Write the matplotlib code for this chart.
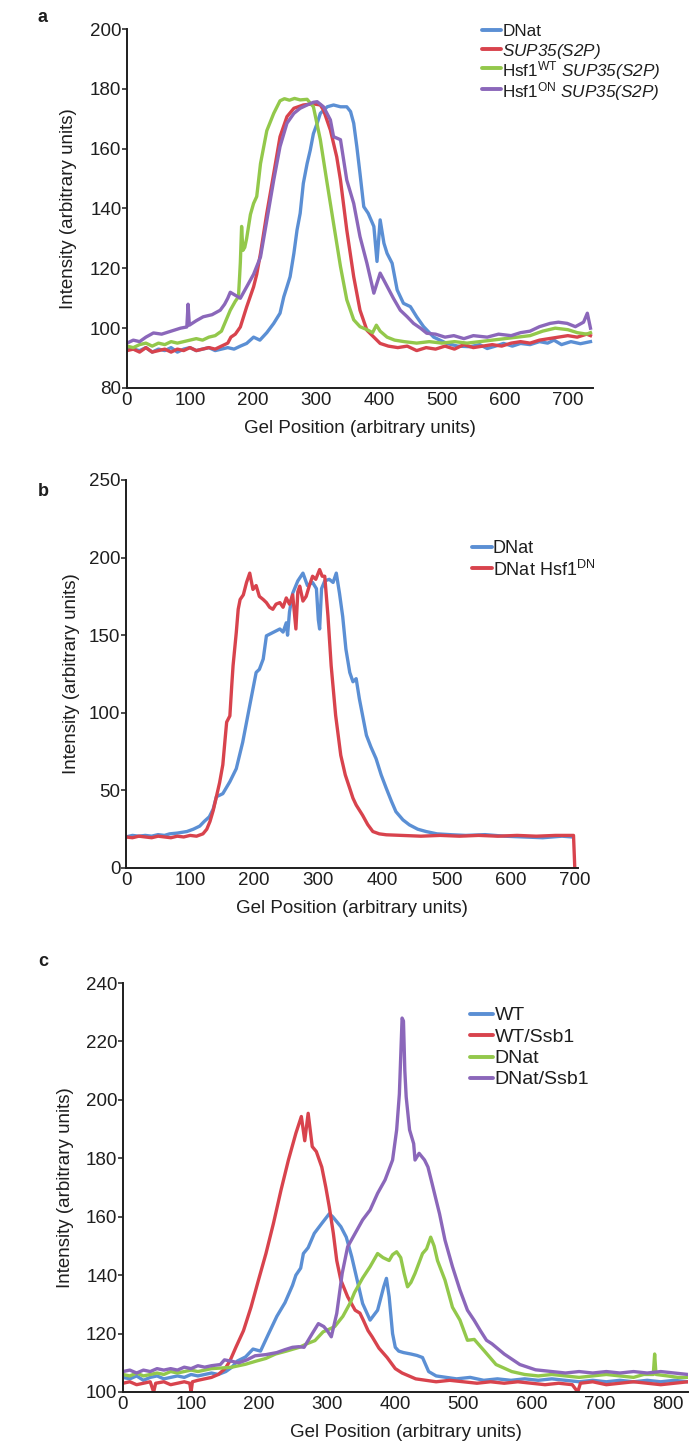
import matplotlib
matplotlib.use("Agg")
import matplotlib.pyplot as plt
from matplotlib.lines import Line2D

plt.rcParams["font.family"] = ["Liberation Sans", "DejaVu Sans"]
plt.rcParams["mathtext.fontset"] = "custom"
plt.rcParams["mathtext.rm"] = "Liberation Sans"
plt.rcParams["mathtext.it"] = "Liberation Sans:italic"
# \mathbf is used as "italic for every glyph" (mathit keeps digits upright)
plt.rcParams["mathtext.bf"] = "Liberation Sans:italic"

BLUE = "#5b8fd4"
RED = "#d8434d"
GREEN = "#93c84b"
PURPLE = "#8b67ba"
INK = "#1e1e1e"

# ---- panel a: (gel position, intensity) ----
a_dnat = [(0, 93.5), (10, 93), (20, 92.5), (30, 93.5), (40, 92), (50, 93), (60, 92.5), (70, 93.5),
          (80, 92), (90, 93), (100, 93.5), (110, 92.5), (120, 93), (130, 93.5), (140, 92.5), (150, 93),
          (160, 93.5), (170, 93), (180, 94), (190, 94.9), (201, 97), (211, 96), (222, 98.5), (233, 101.6),
          (243, 105), (249, 110.5), (254, 113.8), (259, 117.2), (265, 125), (270, 132.8), (275, 138.4),
          (280, 148.4), (286, 155), (291, 159.5), (296, 165), (302, 168.5), (307, 171.8), (318, 174),
          (328, 174.6), (339, 174), (349, 174), (355, 172.4), (360, 168.5), (365, 160.6), (370, 151.7),
          (376, 140.6), (383, 138.4), (392, 134), (397, 122.3), (402, 136.2), (408, 128.4), (413, 125),
          (421, 121.7), (429, 112.8), (439, 108.3), (450, 107.2), (460, 103.8), (471, 100.5), (487, 97),
          (508, 94.9), (525, 94), (545, 93.8), (560, 94.5), (572, 93.2), (585, 94), (598, 94.9), (612, 94),
          (625, 94.9), (640, 94.5), (655, 95.5), (668, 95), (678, 96), (690, 94.5), (705, 95.5), (720, 94.8),
          (736, 95.5)]
a_sup35 = [(0, 92.5), (10, 93), (20, 92), (30, 93.5), (40, 92), (50, 92.5), (60, 93), (70, 92), (80, 93),
           (90, 92.5), (100, 93.5), (110, 92.5), (120, 93), (130, 93.5), (140, 93), (150, 94), (160, 95),
           (165, 97), (172, 98), (180, 100.4), (190, 107.1), (201, 113.8), (206, 118), (212, 125), (222, 138.4),
           (233, 151.7), (243, 164), (254, 170.7), (265, 173.5), (280, 174.6), (295, 175), (307, 174.6),
           (312, 172.9), (323, 166.2), (333, 157.3), (339, 149.5), (349, 132.8), (360, 117.2), (370, 106),
           (381, 99.3), (392, 97), (402, 94.9), (415, 94), (430, 93.5), (445, 94), (460, 92.5), (475, 93.5),
           (490, 93), (505, 94), (520, 93), (535, 94.5), (550, 93.5), (565, 94), (580, 94.5), (595, 94),
           (610, 95), (625, 95.5), (640, 95), (655, 96), (670, 96.5), (685, 97), (700, 97.5), (715, 97),
           (730, 98), (736, 97.5)]
a_hsf1_wt = [(0, 94), (10, 93.5), (20, 94.5), (30, 95), (40, 94), (50, 95), (60, 94.5), (70, 95.5), (80, 95),
             (90, 95.5), (100, 96), (110, 96.5), (120, 96), (130, 97), (140, 97.5), (150, 99), (155, 101.5),
             (164, 106), (172, 109), (177, 110.5), (179, 118), (180, 122), (182, 134), (184, 126), (187, 127),
             (190, 130), (196, 138), (201, 141.7), (206, 144), (212, 155), (222, 166), (233, 171.8), (243, 176),
             (250, 176.7), (258, 176.2), (266, 176.8), (275, 176.3), (286, 176.5), (296, 174), (307, 163),
             (317, 149.5), (328, 135), (339, 120.6), (349, 109.5), (360, 102.8), (370, 100.5), (381, 99.5),
             (390, 98.5), (396, 101), (402, 99), (413, 97), (425, 96), (440, 95.5), (460, 95), (480, 95.5),
             (500, 95), (520, 95.5), (540, 95), (560, 95.5), (580, 96), (600, 96.5), (620, 97), (640, 97.5),
             (660, 99), (680, 100), (700, 99.5), (715, 98.5), (730, 98), (736, 98.5)]
a_hsf1_on = [(0, 95), (10, 96), (20, 95.5), (30, 97), (42, 98.4), (55, 98), (70, 99), (85, 100), (95, 100.4),
             (97, 108), (99, 101), (110, 102.5), (121, 103.8), (135, 104.5), (148, 106), (155, 108), (160, 110),
             (164, 112), (172, 111), (180, 110), (190, 113.8), (201, 118), (212, 123.8), (222, 136), (233, 149.5),
             (243, 160.7), (254, 168.5), (265, 171.8), (275, 173.5), (286, 174.6), (296, 175.5), (302, 175.7),
             (312, 174), (323, 169.6), (328, 164), (339, 163), (349, 149.5), (360, 141.7), (370, 130.6),
             (381, 121.7), (392, 111.7), (402, 118.4), (413, 114), (423, 110), (434, 106), (445, 103.8),
             (455, 101.6), (466, 100), (476, 98.3), (490, 98), (505, 97), (519, 97.5), (535, 96.5), (550, 97.5),
             (572, 97), (590, 98), (610, 97.5), (625, 98.5), (640, 99), (655, 100.5), (672, 101.6), (685, 102),
             (699, 101.6), (712, 100.5), (725, 102), (731, 105), (736, 100)]
a_labels = ["DNat", r"$\mathbf{SUP35(S2P)}$",
            r"Hsf1$^{\mathrm{WT}}$ $\mathbf{SUP35(S2P)}$",
            r"Hsf1$^{\mathrm{ON}}$ $\mathbf{SUP35(S2P)}$"]

# ---- panel b ----
b_dnat = [(0, 20), (10, 21), (20, 20.5), (30, 21), (40, 20.5), (50, 21.5), (60, 21), (68, 22), (80, 22.5),
          (95, 23.5), (105, 25), (115, 27), (122, 30), (130, 33), (136, 38), (141, 45.9), (151, 47.9),
          (162, 55.6), (172, 64), (182, 81), (193, 104.7), (203, 126), (208, 128), (214, 134.6), (219, 149.6),
          (229, 151.7), (240, 154), (245, 152), (250, 158), (252, 150), (255, 165), (260, 177), (268, 185),
          (276, 190), (283, 182), (291, 184), (297, 180), (300, 160), (302, 154), (305, 180), (310, 185),
          (317, 186), (323, 184), (328, 190), (333, 177), (338, 162), (343, 141), (349, 126), (354, 120),
          (359, 122), (364, 109), (375, 85.5), (382, 78), (390, 70.5), (398, 60), (406, 51.3), (414, 43),
          (421, 36.3), (432, 31), (442, 27.8), (455, 25), (468, 23.5), (485, 22), (509, 21.4), (530, 21),
          (560, 21.5), (590, 20.5), (620, 20), (650, 19.5), (680, 20.5), (696, 20)]
b_dnat_hsf1 = [(0, 20), (10, 19.5), (20, 20.5), (30, 20), (40, 19.5), (50, 20.5), (60, 20), (70, 19.5),
               (80, 20.5), (90, 20), (100, 21), (110, 20.5), (120, 22), (126, 25), (131, 30), (136, 37),
               (141, 46), (146, 55), (151, 66.5), (155, 85), (157, 94), (162, 98), (165, 118), (167, 130.4),
               (172, 151.7), (175, 166.7), (178, 173), (183, 176), (188, 184), (193, 190), (198, 179.5),
               (203, 182), (208, 175), (214, 173), (219, 171), (224, 168), (229, 166.7), (234, 170), (240, 171),
               (245, 168), (250, 174), (255, 170), (260, 176), (265, 154), (268, 178), (271, 181.6), (276, 172),
               (281, 175), (286, 182), (291, 188), (296, 186), (302, 192.3), (306, 188), (310, 188),
               (315, 162.4), (320, 130.4), (327, 98.3), (335, 72.6), (342, 60), (349, 51.3), (354, 45),
               (359, 40.6), (369, 34), (377, 28), (385, 23.5), (395, 22), (406, 21.4), (430, 21), (460, 20.5),
               (490, 21), (520, 20.5), (550, 21), (580, 20.5), (610, 21), (640, 20.5), (670, 21), (698, 21),
               (700, 0)]
b_labels = ["DNat", r"DNat Hsf1$^{\mathrm{DN}}$"]

# ---- panel c ----
c_wt = [(0, 105), (10, 104.5), (20, 105.5), (30, 104), (40, 105), (50, 105.5), (60, 104.5), (70, 105),
        (80, 105.5), (90, 105), (100, 106), (110, 105.5), (120, 106), (130, 106.5), (140, 106), (151, 107),
        (160, 108.5), (168, 110.6), (180, 112), (191, 114.7), (202, 114), (214, 120), (226, 125.9),
        (238, 130.6), (249, 136.5), (254, 140), (261, 142.4), (265, 147.4), (272, 149.4), (281, 154.3),
        (292, 157.7), (303, 161), (308, 160), (320, 156.6), (328, 153), (336, 146.3), (344, 138.3),
        (352, 130.3), (363, 124.6), (374, 128), (383, 136), (387, 138.9), (391, 132.6), (396, 120),
        (400, 115.3), (405, 114), (412, 113.5), (423, 113), (432, 112.5), (440, 111.8), (449, 107),
        (460, 105.5), (475, 105), (490, 104.5), (510, 105), (530, 104), (550, 104.5), (570, 104),
        (590, 104.5), (610, 104), (630, 104.5), (650, 104), (670, 103.5), (690, 104), (710, 103.5),
        (730, 104), (750, 103.5), (770, 104), (790, 103.5), (810, 104), (830, 103.5)]
c_wt_ssb1 = [(0, 103), (10, 103.5), (20, 102.5), (30, 103), (40, 103.5), (45, 100), (48, 103), (60, 103.5),
             (70, 102.5), (80, 103), (90, 103.5), (98, 103), (100, 100), (102, 103.5), (110, 104), (120, 104.5),
             (130, 105), (140, 106), (150, 108), (157, 110.6), (166, 115.4), (177, 121), (188, 129),
             (199, 138.3), (210, 147.4), (221, 157.7), (232, 169), (243, 179.4), (254, 188.6), (262, 194.3),
             (267, 186), (272, 195.4), (278, 184), (284, 182.3), (292, 177), (298, 170), (303, 163.4),
             (309, 154.3), (314, 145), (320, 138.3), (330, 132.6), (341, 128), (348, 127), (353, 124.6),
             (360, 121), (366, 118.9), (376, 115), (388, 111.8), (400, 108), (410, 106.5), (420, 105.5),
             (430, 104.5), (445, 104), (460, 103.5), (480, 104), (500, 103.5), (520, 103), (540, 103.5),
             (560, 103), (580, 103.5), (600, 103), (620, 102.5), (640, 103), (660, 102.5), (668, 100),
             (672, 103), (690, 103.5), (710, 102.5), (730, 103), (750, 103.5), (770, 103), (790, 102.5),
             (810, 103), (830, 103.5)]
c_dnat = [(0, 106), (10, 105.5), (20, 106.5), (30, 105.5), (40, 106), (50, 106.5), (60, 106), (70, 107),
          (80, 106.5), (90, 107), (100, 107.5), (110, 107), (120, 107.5), (130, 108), (144, 108.2),
          (160, 108.5), (180, 109.5), (196, 110.6), (210, 111.5), (224, 113), (240, 114), (259, 115.3),
          (270, 116.5), (282, 117.6), (294, 120.6), (303, 121.5), (311, 122.4), (323, 125.9), (334, 130.6),
          (340, 134), (352, 139), (363, 142.9), (374, 147.4), (382, 146), (391, 145), (396, 147), (402, 148),
          (408, 146), (413, 140.6), (418, 136), (423, 137.5), (429, 140.6), (440, 147.4), (446, 149),
          (452, 153), (457, 150), (462, 145), (473, 138.3), (484, 129), (495, 124.6), (506, 117.7),
          (516, 118), (531, 114), (548, 109.4), (571, 107), (590, 106), (610, 105.5), (630, 106),
          (650, 105.5), (670, 105), (690, 105.5), (710, 106), (730, 105.5), (750, 105), (765, 106),
          (779, 106), (781, 113), (783, 106), (800, 105.5), (815, 105), (830, 105)]
c_dnat_ssb1 = [(0, 107), (10, 107.5), (20, 106.5), (30, 107.5), (40, 107), (50, 108), (60, 107.5), (70, 108),
               (80, 107.5), (90, 108.5), (100, 108), (110, 109), (120, 108.5), (130, 109), (143, 109.4),
               (149, 111), (160, 110.5), (170, 110), (182, 111), (194, 112.4), (210, 112.8), (226, 113.5),
               (238, 114.5), (249, 115.3), (258, 115.5), (266, 115.3), (278, 120), (287, 123.4), (295, 122.4),
               (300, 121), (306, 118.9), (314, 126.9), (322, 140.6), (330, 149.7), (341, 154.3), (352, 158.9),
               (363, 162.3), (374, 168), (385, 172.6), (396, 179.4), (402, 189.7), (406, 202), (408, 215),
               (410, 228), (412, 227), (414, 210), (416, 201), (421, 189.7), (427, 185), (429, 179.4),
               (435, 181.7), (443, 179.4), (448, 177), (454, 171.4), (460, 165.7), (465, 161), (473, 152),
               (484, 142.9), (495, 134.9), (506, 128), (516, 124.5), (525, 121), (534, 117.7), (542, 116.5),
               (560, 113), (583, 109.4), (606, 107.6), (630, 107), (650, 106.5), (670, 107), (690, 106.5),
               (710, 107), (730, 106.5), (750, 107), (770, 106.5), (790, 107), (810, 106.5), (830, 106)]
c_labels = ["WT", "WT/Ssb1", "DNat", "DNat/Ssb1"]

W, H = 690, 1446
fig = plt.figure(figsize=(W / 100, H / 100), dpi=100)


def add_axes(left, top, right, bottom):
    return fig.add_axes([left / W, 1 - bottom / H, (right - left) / W, (bottom - top) / H])


def style(ax, box, xlim, ylim, yticks, xticks, ylab_right):
    left, top, right, bottom = box
    ax.set_xlim(*xlim)
    ax.set_ylim(*ylim)
    ax.set_yticks(yticks)
    ax.set_xticks(xticks)
    for s in ["top", "right"]:
        ax.spines[s].set_visible(False)
    for s in ["left", "bottom"]:
        ax.spines[s].set_linewidth(1.4)
        ax.spines[s].set_color(INK)
    ax.tick_params(axis="y", direction="out", length=3.5, width=1.1, pad=0.5, labelsize=13.5, colors=INK)
    ax.tick_params(axis="x", length=0, pad=3, labelsize=13.5, colors=INK)
    ax.set_xlabel("Gel Position (arbitrary units)", fontsize=13.5, color=INK, labelpad=8)
    ax.set_ylabel("Intensity (arbitrary units)", fontsize=13.5, color=INK)
    ax.yaxis.set_label_coords((ylab_right - left) / (right - left), 0.5)


def draw(ax, series, colors, labels):
    for data, c, lab in zip(series, colors, labels):
        xs = [p[0] for p in data]
        ys = [p[1] for p in data]
        ax.plot(xs, ys, color=c, lw=2.4, label=lab, solid_joinstyle="round")


def legend(x0, x1, rows, colors, labels, size):
    # legend entries placed in figure pixels, one row per series
    for yy, c, lab in zip(rows, colors, labels):
        fy = 1 - yy / H
        fig.add_artist(Line2D([x0 / W, x1 / W], [fy, fy], transform=fig.transFigure,
                              color=c, lw=2.8, solid_capstyle="round"))
        fig.text((x1 + 1.5) / W, fy, lab, fontsize=size, color=INK, ha="left", va="center_baseline")


# panel a
box_a = (127, 29, 593, 388)
ax_a = add_axes(*box_a)
draw(ax_a, [a_dnat, a_sup35, a_hsf1_wt, a_hsf1_on], [BLUE, RED, GREEN, PURPLE], a_labels)
style(ax_a, box_a, (0, 740), (80, 200), range(80, 201, 20), range(0, 701, 100), 77)
legend(482, 501, [30, 49, 68, 89], [BLUE, RED, GREEN, PURPLE], a_labels, 12.3)

# panel b
box_b = (126, 480, 578, 868)
ax_b = add_axes(*box_b)
draw(ax_b, [b_dnat, b_dnat_hsf1], [BLUE, RED], b_labels)
style(ax_b, box_b, (0, 705), (0, 250), range(0, 251, 50), range(0, 701, 100), 80)
legend(472, 491.5, [546.7, 568], [BLUE, RED], b_labels, 13)

# panel c
box_c = (123, 983, 688, 1392)
ax_c = add_axes(*box_c)
draw(ax_c, [c_wt, c_wt_ssb1, c_dnat, c_dnat_ssb1], [BLUE, RED, GREEN, PURPLE], c_labels)
style(ax_c, box_c, (0, 830), (100, 240), range(100, 241, 20), range(0, 801, 100), 74)
legend(470, 493, [1014, 1035, 1056.5, 1078], [BLUE, RED, GREEN, PURPLE], c_labels, 14)

for letter, yy in [("a", 18), ("b", 492), ("c", 962)]:
    fig.text(38 / W, 1 - yy / H, letter, fontsize=13, fontweight="bold", color=INK,
             ha="left", va="center")

fig.savefig("out.png", dpi=100)
